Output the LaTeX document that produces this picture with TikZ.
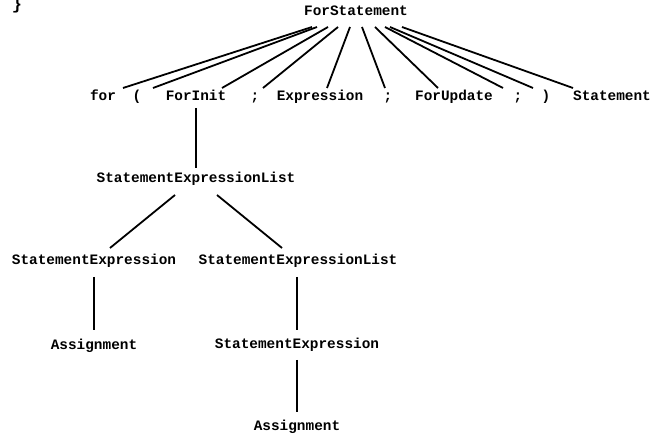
\documentclass[tikz,border=0pt]{standalone}
\usepackage{fontspec}
\setmonofont{Liberation Mono}
\begin{document}
\begin{tikzpicture}[x=1pt,y=-1pt,
  lbl/.style={font=\ttfamily\bfseries\fontsize{14.4}{16}\selectfont, inner sep=0pt, text height=8pt, text depth=2pt},
  edge/.style={line width=1.8pt}]
\useasboundingbox (0,0) rectangle (651,435);
\node[lbl, anchor=base, font=\ttfamily\bfseries\fontsize{17}{18}\selectfont] (brace) at (17,10) {\}};
\node[lbl] (fs) at (356,13) {ForStatement};
\node[lbl] (for) at (103,98) {for};
\node[lbl] (lp) at (137,98) {(};
\node[lbl] (fi) at (196,98) {ForInit};
\node[lbl] (s1) at (255,98) {;};
\node[lbl] (ex) at (320,98) {Expression};
\node[lbl] (s2) at (388,98) {;};
\node[lbl] (fu) at (454,98) {ForUpdate};
\node[lbl] (s3) at (518,98) {;};
\node[lbl] (rp) at (546,98) {)};
\node[lbl] (st) at (612,98) {Statement};
\node[lbl] (sel) at (196,180) {StatementExpressionList};
\node[lbl] (sea) at (94,262) {StatementExpression};
\node[lbl] (selb) at (298,262) {StatementExpressionList};
\node[lbl] (asa) at (94,347) {Assignment};
\node[lbl] (seb) at (297,346) {StatementExpression};
\node[lbl] (asb) at (297,428) {Assignment};
\draw[edge] ([shift={(-44,14)}]fs.center) -- ([shift={(20,-10)}]for.center);
\draw[edge] ([shift={(-39,14)}]fs.center) -- ([shift={(16,-10)}]lp.center);
\draw[edge] ([shift={(-28,14)}]fs.center) -- ([shift={(26,-10)}]fi.center);
\draw[edge] ([shift={(-18,14)}]fs.center) -- ([shift={(8,-10)}]s1.center);
\draw[edge] ([shift={(-6,14)}]fs.center) -- ([shift={(7,-10)}]ex.center);
\draw[edge] ([shift={(6,14)}]fs.center) -- ([shift={(-3,-10)}]s2.center);
\draw[edge] ([shift={(19,14)}]fs.center) -- ([shift={(-16,-10)}]fu.center);
\draw[edge] ([shift={(29,14)}]fs.center) -- ([shift={(-15,-10)}]s3.center);
\draw[edge] ([shift={(34,14)}]fs.center) -- ([shift={(-13,-10)}]rp.center);
\draw[edge] ([shift={(46,14)}]fs.center) -- ([shift={(-39,-10)}]st.center);
\draw[edge] ([shift={(0,10)}]fi.center) -- ([shift={(0,-12)}]sel.center);
\draw[edge] ([shift={(-21,15)}]sel.center) -- ([shift={(16,-14)}]sea.center);
\draw[edge] ([shift={(21,15)}]sel.center) -- ([shift={(-16,-14)}]selb.center);
\draw[edge] ([shift={(0,15)}]sea.center) -- ([shift={(0,-17)}]asa.center);
\draw[edge] ([shift={(-1,15)}]selb.center) -- ([shift={(0,-16)}]seb.center);
\draw[edge] ([shift={(0,14)}]seb.center) -- ([shift={(0,-16)}]asb.center);
\end{tikzpicture}
\end{document}
